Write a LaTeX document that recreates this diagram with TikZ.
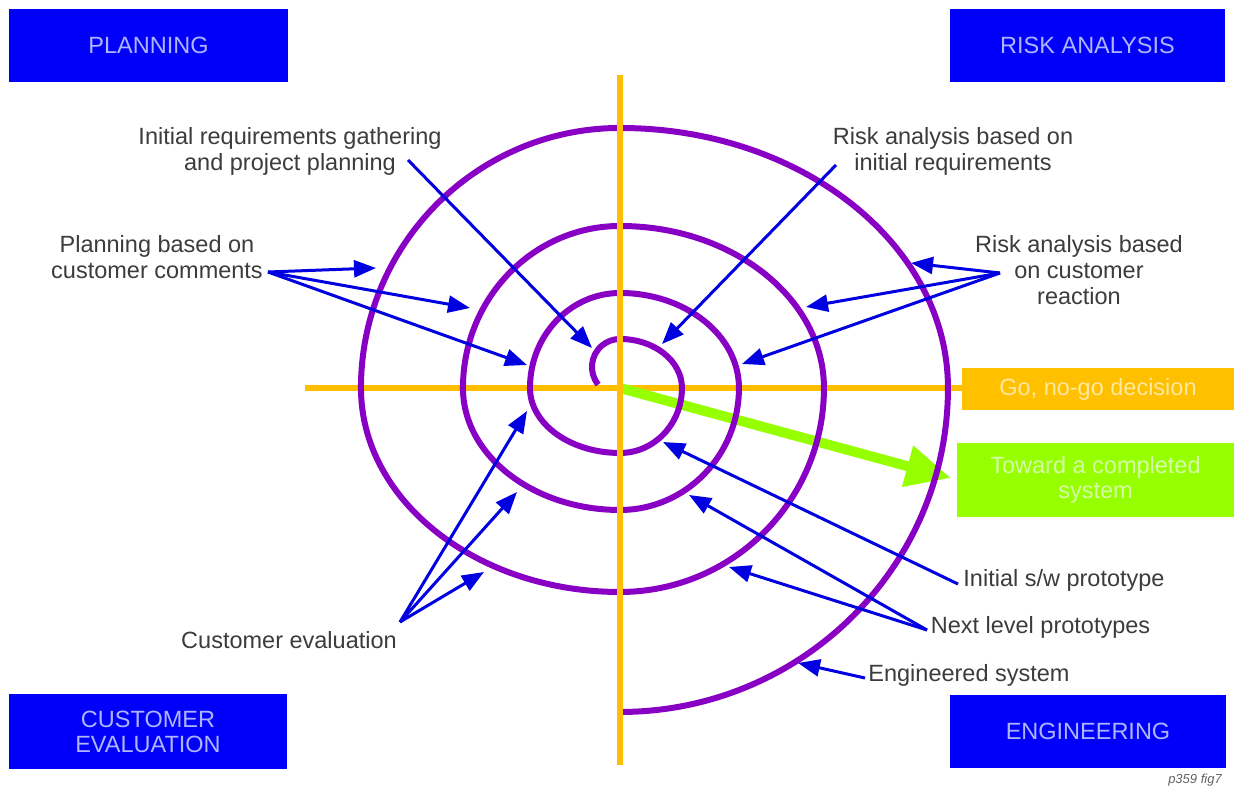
\documentclass[tikz,border=0pt]{standalone}
\usepackage{fontspec}
\setmainfont{Liberation Sans}
\usetikzlibrary{arrows.meta}
\definecolor{boxblue}{RGB}{0,0,250}
\definecolor{boxtxt}{RGB}{175,180,255}
\definecolor{axisor}{RGB}{255,190,0}
\definecolor{goor}{RGB}{255,192,0}
\definecolor{gotxt}{RGB}{255,232,160}
\definecolor{grn}{RGB}{150,255,0}
\definecolor{grntxt}{RGB}{215,255,170}
\definecolor{spir}{RGB}{136,0,196}
\definecolor{arrblue}{RGB}{0,0,225}
\definecolor{lbl}{RGB}{60,60,60}
\begin{document}
\begin{tikzpicture}[x=1pt,y=-1pt,
  quadbox/.style={fill=boxblue, text=boxtxt, inner sep=0pt, align=center, font=\fontsize{23.5}{25}\selectfont},
  lab/.style={text=lbl, inner sep=0pt, align=center, font=\fontsize{23.5}{26}\selectfont},
  ptr/.style={draw=arrblue, line width=3pt, -{Triangle[length=22pt,width=17pt]}},
  axis/.style={draw=axisor, line width=6pt},
  spiralline/.style={draw=spir, line width=6pt}
]
\useasboundingbox (0,0) rectangle (1234,787);
\fill[white] (0,0) rectangle (1234,787);

% quadrant boxes
\node[quadbox, minimum width=279pt, minimum height=73pt] (plan) at (148.5,45.5) {PLANNING};
\node[quadbox, minimum width=275pt, minimum height=73pt] (risk) at (1087.5,45.5) {RISK ANALYSIS};
\node[quadbox, minimum width=278pt, minimum height=75pt] (cust) at (148,731.5) {CUSTOMER\\EVALUATION};
\node[quadbox, minimum width=276pt, minimum height=73pt] (eng) at (1088,731.5) {ENGINEERING};

% side boxes
\node[fill=goor, text=gotxt, inner sep=0pt, minimum width=272pt, minimum height=42pt,
  font=\fontsize{23.5}{26}\selectfont] (go) at (1098,389) {Go, no-go decision};
\node[fill=grn, text=grntxt, inner sep=0pt, minimum width=277pt, minimum height=74pt, align=center,
  font=\fontsize{23.5}{25}\selectfont] (tow) at (1095.5,480) {Toward a completed\\system};

% axes
\coordinate (ctr) at (620,388);
\coordinate (hl) at (305,388);
\coordinate (hr) at (962,388);
\coordinate (vt) at (620,75);
\coordinate (vb) at (620,765);
\draw[axis] (hl) -- (hr);

% green arrow
\coordinate (gtip) at (951,478);
\draw[draw=grn, line width=10pt, -{Triangle[length=45pt,width=40pt]}] (ctr) -- (gtip);

% spiral
\coordinate (sp0) at (598.2,384.6);
\draw[spiralline] (sp0)
  arc[start angle=141, end angle=270, radius=28]
  arc[start angle=270, end angle=360, x radius=62, y radius=49]
  arc[start angle=0, end angle=90, x radius=62, y radius=65]
  arc[start angle=90, end angle=180, x radius=90, y radius=65]
  arc[start angle=180, end angle=270, x radius=90, y radius=95]
  arc[start angle=270, end angle=360, x radius=119, y radius=95]
  arc[start angle=0, end angle=90, x radius=119, y radius=122]
  arc[start angle=90, end angle=180, x radius=157, y radius=122]
  arc[start angle=180, end angle=270, x radius=157, y radius=162]
  arc[start angle=270, end angle=360, x radius=204, y radius=162]
  arc[start angle=0, end angle=90, x radius=204, y radius=204]
  arc[start angle=90, end angle=180, x radius=259, y radius=204]
  arc[start angle=180, end angle=270, x radius=259, y radius=260]
  arc[start angle=270, end angle=360, x radius=328, y radius=260]
  arc[start angle=0, end angle=90, x radius=328, y radius=324];

\draw[axis] (vt) -- (vb);

% labels
\node[lab] (l1) at (290,151) {Initial requirements gathering\\and project planning};
\node[lab] (l2) at (953,151) {Risk analysis based on\\initial requirements};
\node[lab] (l3) at (157,257.5) {Planning based on\\customer comments};
\node[lab] (l4) at (1079,270) {Risk analysis based\\on customer\\reaction};
\node[lab] (l5) at (289,640) {Customer evaluation};
\node[lab] (l6) at (1064,580) {Initial s/w prototype};
\node[lab] (l7) at (1040.5,627) {Next level prototypes};
\node[lab] (l8) at (969,675) {Engineered system};
\node[text=lbl!80, inner sep=0pt, font=\fontsize{13}{14}\selectfont\itshape] (fig) at (1195,780) {p359 fig7};

% pointer coordinates
\coordinate (o1) at (408,160); \coordinate (t1) at (592,348);
\coordinate (o2) at (836,165); \coordinate (t2) at (662,344);
\coordinate (o3) at (268,272);
\coordinate (t3a) at (376,268); \coordinate (t3b) at (470,308); \coordinate (t3c) at (527,365);
\coordinate (o4) at (1000,273);
\coordinate (t4a) at (911,263); \coordinate (t4b) at (806,307); \coordinate (t4c) at (742,364);
\coordinate (o5) at (400,622);
\coordinate (t5a) at (527,411); \coordinate (t5b) at (517,492); \coordinate (t5c) at (484,572);
\coordinate (o6) at (958,584); \coordinate (t6) at (663,442);
\coordinate (o7) at (927,630);
\coordinate (t7a) at (689,495); \coordinate (t7b) at (729,567);
\coordinate (o8) at (865,678); \coordinate (t8) at (798,663);

\draw[ptr] (o1) -- (t1);
\draw[ptr] (o2) -- (t2);
\draw[ptr] (o3) -- (t3a);
\draw[ptr] (o3) -- (t3b);
\draw[ptr] (o3) -- (t3c);
\draw[ptr] (o4) -- (t4a);
\draw[ptr] (o4) -- (t4b);
\draw[ptr] (o4) -- (t4c);
\draw[ptr] (o5) -- (t5a);
\draw[ptr] (o5) -- (t5b);
\draw[ptr] (o5) -- (t5c);
\draw[ptr] (o6) -- (t6);
\draw[ptr] (o7) -- (t7a);
\draw[ptr] (o7) -- (t7b);
\draw[ptr] (o8) -- (t8);
\end{tikzpicture}
\end{document}
